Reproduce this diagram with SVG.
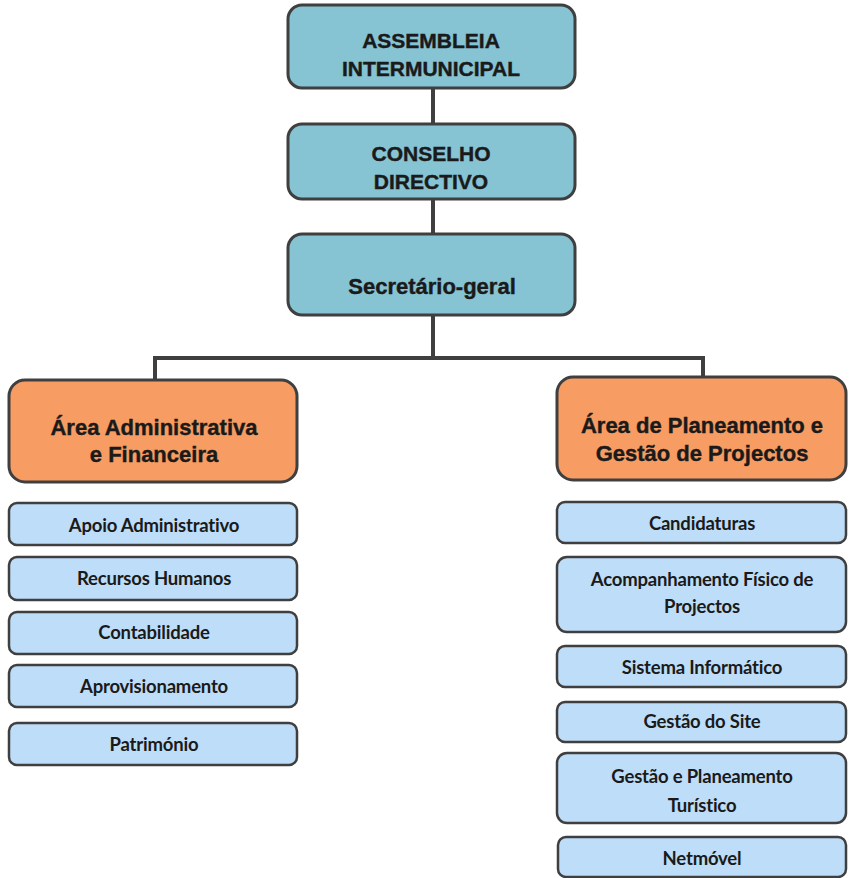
<svg xmlns="http://www.w3.org/2000/svg" width="851" height="878" viewBox="0 0 851 878">
<style>
.top{fill:#86C3D3;stroke:#3f3f3f;stroke-width:3}
.area{fill:#F79C62;stroke:#3f3f3f;stroke-width:3}
.sub{fill:#BEDDF8;stroke:#3f3f3f;stroke-width:2.5}
.t1{font-family:"Liberation Sans",Arial,sans-serif;font-weight:bold;font-size:21px;fill:#1a1a1a;stroke:#1a1a1a;stroke-width:0.4;text-anchor:middle}
.t2{font-family:"Liberation Sans",Arial,sans-serif;font-weight:bold;font-size:22px;fill:#1a1a1a;stroke:#1a1a1a;stroke-width:0.4;text-anchor:middle}
.t3{font-family:Lato,"Open Sans",sans-serif;font-weight:bold;font-size:18.5px;fill:#1a1a1a;text-anchor:middle;letter-spacing:-0.2px}
.con{stroke:#3f3f3f;stroke-width:4;fill:none}
</style>
<rect width="851" height="878" fill="#ffffff"/>
<g id="connectors">
<path class="con" d="M433 88V123M433 199V233M433 315V358M155 358H703M155 356V380M703 356V377"/>
</g>
<g id="assembleia">
<rect class="top" x="288" y="5" width="287" height="83" rx="14"/>
<text class="t1" x="431" y="48">ASSEMBLEIA</text>
<text class="t1" x="431" y="76">INTERMUNICIPAL</text>
</g>
<g id="conselho">
<rect class="top" x="288" y="124" width="287" height="75" rx="14"/>
<text class="t1" x="431" y="161">CONSELHO</text>
<text class="t1" x="431" y="189">DIRECTIVO</text>
</g>
<g id="secretario">
<rect class="top" x="288" y="234" width="287" height="81" rx="14"/>
<text class="t1" x="432" y="294" style="font-size:22px">Secretário-geral</text>
</g>
<g id="area-admin">
<rect class="area" x="9" y="380" width="288" height="102" rx="16"/>
<text class="t2" x="154" y="435">Área Administrativa</text>
<text class="t2" x="154" y="462">e Financeira</text>
</g>
<g id="area-plan">
<rect class="area" x="557" y="377" width="289" height="103" rx="16"/>
<text class="t2" x="702" y="433">Área de Planeamento e</text>
<text class="t2" x="702" y="461">Gestão de Projectos</text>
</g>
<g id="apoio"><rect class="sub" x="9" y="503" width="288" height="42" rx="8"/><text class="t3" x="154" y="532">Apoio Administrativo</text></g>
<g id="recursos"><rect class="sub" x="9" y="557" width="288" height="43" rx="8"/><text class="t3" x="154" y="585">Recursos Humanos</text></g>
<g id="contabilidade"><rect class="sub" x="9" y="612" width="288" height="42" rx="8"/><text class="t3" x="154" y="639">Contabilidade</text></g>
<g id="aprovisionamento"><rect class="sub" x="9" y="665" width="288" height="42" rx="8"/><text class="t3" x="154" y="693">Aprovisionamento</text></g>
<g id="patrimonio"><rect class="sub" x="9" y="723" width="288" height="42" rx="8"/><text class="t3" x="154" y="751">Património</text></g>
<g id="candidaturas"><rect class="sub" x="557" y="502" width="289" height="41" rx="8"/><text class="t3" x="702" y="530">Candidaturas</text></g>
<g id="acompanhamento"><rect class="sub" x="557" y="557" width="289" height="75" rx="10"/><text class="t3" x="702" y="586">Acompanhamento Físico de</text><text class="t3" x="702" y="613">Projectos</text></g>
<g id="sistema"><rect class="sub" x="557" y="646" width="289" height="41" rx="8"/><text class="t3" x="702" y="674">Sistema Informático</text></g>
<g id="site"><rect class="sub" x="557" y="702" width="289" height="40" rx="8"/><text class="t3" x="702" y="728">Gestão do Site</text></g>
<g id="turistico"><rect class="sub" x="557" y="753" width="289" height="70" rx="10"/><text class="t3" x="702" y="783">Gestão e Planeamento</text><text class="t3" x="702" y="812">Turístico</text></g>
<g id="netmovel"><rect class="sub" x="558" y="837" width="288" height="40" rx="8"/><text class="t3" x="702" y="865">Netmóvel</text></g>
</svg>
